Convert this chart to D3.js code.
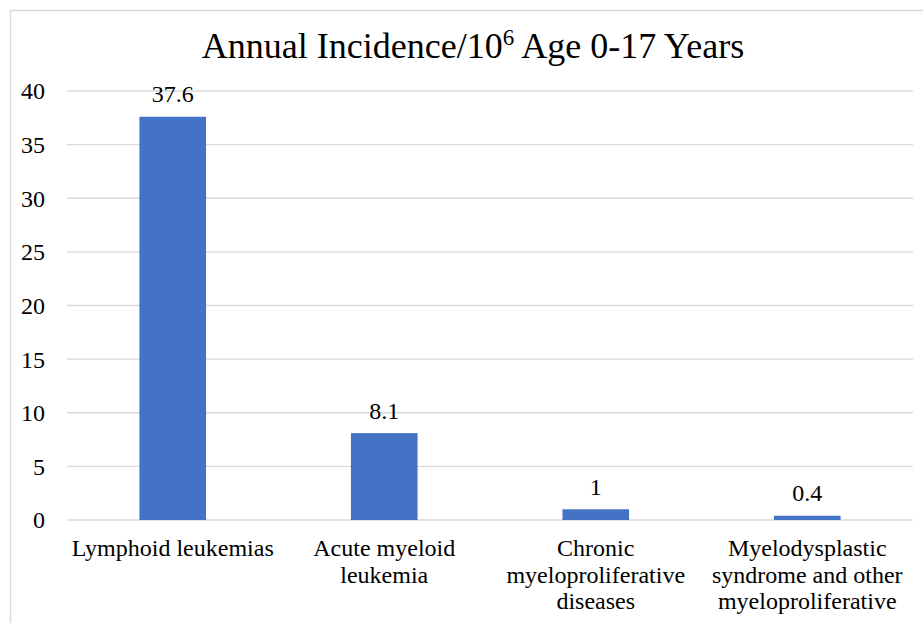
<!DOCTYPE html>
<html>
<head>
<meta charset="utf-8">
<script src="https://cdn.jsdelivr.net/npm/d3@7"></script>
<style>
  html, body { margin: 0; padding: 0; background: #fff; }
  svg { display: block; }
</style>
</head>
<body>
<svg id="chart" width="923" height="623"></svg>
<script>
// Leukemia incidence by type, ages 0-17
const categories = [
  ["Lymphoid leukemias"],
  ["Acute myeloid", "leukemia"],
  ["Chronic", "myeloproliferative", "diseases"],
  ["Myelodysplastic", "syndrome and other", "myeloproliferative"]
];
const values = [37.6, 8.1, 1, 0.4];
const valueLabels = ["37.6", "8.1", "1", "0.4"];
const yTicks = [0, 5, 10, 15, 20, 25, 30, 35, 40];

const FONT = '"Times New Roman", "Liberation Serif", Tinos, serif';
const svg = d3.select("#chart");
const W = 923, H = 623;
const plot = { left: 67, right: 913, top: 91, bottom: 520 };

// chart area border
svg.append("rect")
  .attr("x", 10.5).attr("y", 10.5)
  .attr("width", W + 10).attr("height", H + 10)
  .attr("fill", "#fff").attr("stroke", "#d9d9d9").attr("stroke-width", 1.5);

const x = d3.scaleBand()
  .domain(d3.range(values.length))
  .range([plot.left, plot.right])
  .paddingInner(0.685).paddingOuter(0.3425);

const y = d3.scaleLinear().domain([0, 40]).range([plot.bottom, plot.top]);

// gridlines
svg.append("g")
  .selectAll("line").data(yTicks).join("line")
  .attr("x1", plot.left).attr("x2", plot.right)
  .attr("y1", d => y(d)).attr("y2", d => y(d))
  .attr("stroke", "#d9d9d9").attr("stroke-width", 1.3);

// y axis labels
const yAxis = d3.axisLeft(y).tickValues(yTicks).tickSize(0).tickPadding(0);
const gy = svg.append("g").attr("transform", "translate(45,0)").call(yAxis)
  .attr("font-family", null).attr("font-size", null);
gy.select(".domain").remove();
gy.selectAll("text")
  .style("font-family", FONT)
  .style("font-size", "24px")
  .attr("fill", "#000").attr("dy", "0.33em");

// bars
svg.append("g")
  .selectAll("rect").data(values).join("rect")
  .attr("x", (d, i) => x(i))
  .attr("width", x.bandwidth())
  .attr("y", d => y(d))
  .attr("height", d => y(0) - y(d))
  .attr("fill", "#4472c4");

// value labels
svg.append("g")
  .selectAll("text").data(values).join("text")
  .style("font-family", FONT)
  .style("font-size", "24px")
  .attr("x", (d, i) => x(i) + x.bandwidth() / 2)
  .attr("y", d => y(d) - 14.5)
  .attr("text-anchor", "middle")
  .text((d, i) => valueLabels[i]);

// category labels
const cat = svg.append("g")
  .selectAll("text").data(categories).join("text")
  .style("font-family", FONT)
  .style("font-size", "24px")
  .attr("text-anchor", "middle");
cat.each(function(lines, i) {
  const cx = x(i) + x.bandwidth() / 2;
  d3.select(this).selectAll("tspan").data(lines).join("tspan")
    .attr("x", cx)
    .attr("y", (l, j) => 556 + j * 26.6)
    .text(l => l);
});

// title
const title = svg.append("text")
  .style("font-family", FONT)
  .style("font-size", "36px")
  .attr("x", 473).attr("y", 57.5)
  .attr("text-anchor", "middle");
title.append("tspan").text("Annual Incidence/10");
title.append("tspan").style("font-size", "23px").attr("dy", -13).text("6");
title.append("tspan").attr("dy", 13).text(" Age 0-17 Years");
</script>
</body>
</html>
